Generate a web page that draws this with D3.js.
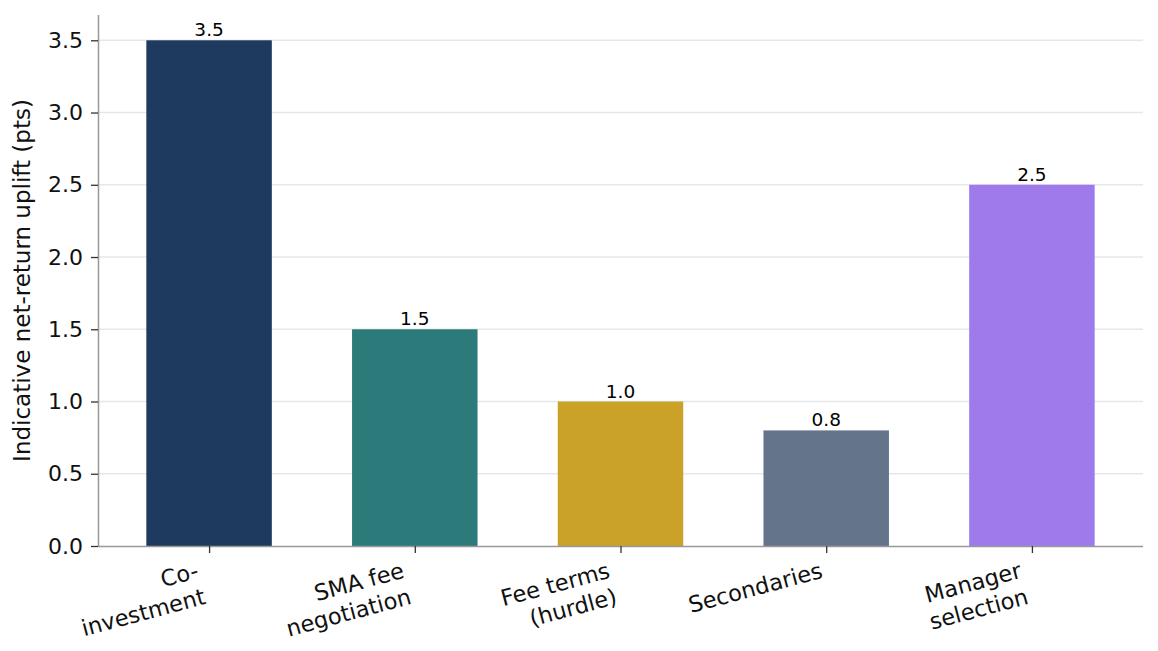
<!DOCTYPE html>
<html>
<head>
<meta charset="utf-8">
<script src="https://cdn.jsdelivr.net/npm/d3@7/dist/d3.min.js"></script>
<style>
  html, body { margin: 0; padding: 0; background: #fff; }
  svg { display: block; font-family: "DejaVu Sans", sans-serif; }
</style>
</head>
<body>
<svg id="chart" width="1158" height="651"></svg>
<script>
const categories = [["Co-", "investment"], ["SMA fee", "negotiation"], ["Fee terms", "(hurdle)"], ["Secondaries"], ["Manager", "selection"]];
const values = [3.5, 1.5, 1.0, 0.8, 2.5];
const colors = ["#1f3a5f", "#2d7a7a", "#c9a227", "#64748b", "#9f7aea"];
const yTicks = [0, 0.5, 1.0, 1.5, 2.0, 2.5, 3.0, 3.5];
const yLabel = "Indicative net-return uplift (pts)";

(function () {
const svg = d3.select("#chart");
const mLeft = 98, mRight = 1143, mTop = 15, mBottom = 546;
const tickFont = 22, labFont = 22.5, valFont = 18.5;

const x = d3.scaleLinear().domain([-0.54, values.length - 1 + 0.54]).range([mLeft, mRight]);
const y = d3.scaleLinear().domain([0, 3.675]).range([mBottom, mTop]);
const barW = x(0.61) - x(0);

// gridlines
svg.append("g").selectAll("line").data(yTicks.filter(d => d > 0)).join("line")
  .attr("x1", mLeft).attr("x2", mRight)
  .attr("y1", d => y(d)).attr("y2", d => y(d))
  .attr("stroke", "#e5e7eb").attr("stroke-width", 1.5);

// bars
svg.append("g").selectAll("rect").data(values).join("rect")
  .attr("x", (d, i) => x(i) - barW / 2)
  .attr("width", barW)
  .attr("y", d => y(d))
  .attr("height", d => y(0) - y(d))
  .attr("fill", (d, i) => colors[i]);

// value labels
svg.append("g").selectAll("text").data(values).join("text")
  .attr("x", (d, i) => x(i))
  .attr("y", d => y(d) - 4)
  .attr("text-anchor", "middle")
  .attr("font-size", valFont)
  .attr("fill", "#000")
  .text(d => d.toFixed(1));

// y axis
const yAxis = d3.axisLeft(y).tickValues(yTicks).tickFormat(d3.format(".1f")).tickSize(7).tickPadding(8);
const gy = svg.append("g").attr("transform", `translate(${mLeft},0)`).call(yAxis);
gy.select(".domain").attr("stroke", "#999").attr("stroke-width", 1.5).attr("d", `M0.5,${mTop}V${mBottom}`);
gy.selectAll(".tick line").attr("stroke", "#333").attr("stroke-width", 1.3);
gy.selectAll(".tick text").attr("font-size", tickFont).attr("fill", "#111").attr("font-family", "DejaVu Sans");

// x axis
const xAxis = d3.axisBottom(x).tickValues(d3.range(values.length)).tickFormat("").tickSize(7);
const gx = svg.append("g").attr("transform", `translate(0,${mBottom})`).call(xAxis);
gx.select(".domain").attr("stroke", "#999").attr("stroke-width", 1.5).attr("d", `M${mLeft},0.5H${mRight}`);
gx.selectAll(".tick line").attr("stroke", "#333").attr("stroke-width", 1.3);

// x labels, rotated 15deg, right-aligned, bbox right at tick, bbox top below ticks
const ang = 15 * Math.PI / 180, c = Math.cos(ang), s = Math.sin(ang);
const lineH = 1.2 * labFont, asc = 0.8 * labFont;
const topY = mBottom + 14;
const glab = svg.append("g");
categories.forEach((lines, i) => {
  const t = glab.append("text")
    .attr("text-anchor", "end")
    .attr("font-size", labFont)
    .attr("fill", "#111");
  const spans = lines.map((line, k) => t.append("tspan").attr("y", asc + k * lineH).text(line));
  const W = d3.max(spans, sp => sp.node().getComputedTextLength());
  const H = lines.length * lineH;
  spans.forEach(sp => sp.attr("x", W));
  const tlx = x(i) - (W * c + H * s);
  const tly = topY + W * s;
  t.attr("transform", `translate(${tlx},${tly}) rotate(-15)`);
});

// y label
svg.append("text")
  .attr("transform", `translate(30,${(mTop + mBottom) / 2}) rotate(-90)`)
  .attr("text-anchor", "middle")
  .attr("font-size", 23)
  .attr("fill", "#111")
  .text(yLabel);
})();
</script>
</body>
</html>
